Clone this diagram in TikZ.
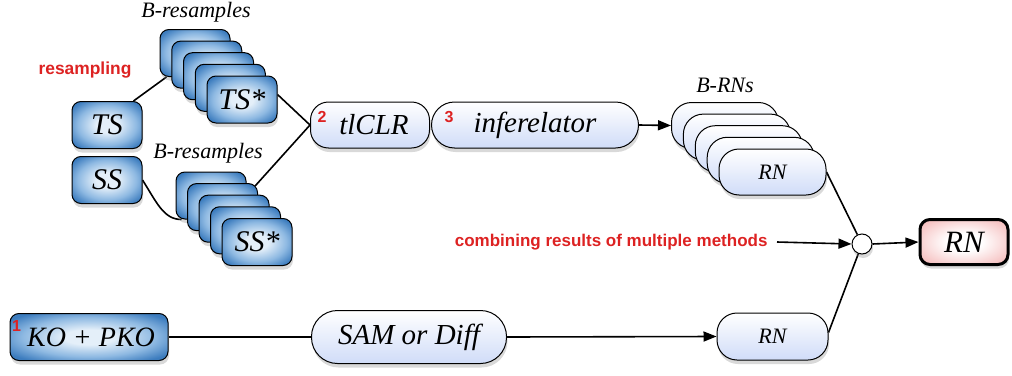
\documentclass[tikz,border=0pt]{standalone}
\usepackage{fontspec}
\setmainfont{Liberation Serif}
\setsansfont{Liberation Sans}
\usetikzlibrary{arrows.meta,shadows,calc}
\definecolor{bedge}{HTML}{3C7CBE}
\definecolor{bmid}{HTML}{8EB9E2}
\definecolor{bcenter}{HTML}{E4EFF9}
\definecolor{lblue}{HTML}{D0DCF8}
\definecolor{pinkedge}{HTML}{F5BFBF}
\definecolor{redlab}{HTML}{DD2222}
\pgfdeclareradialshading{blueshade}{\pgfpoint{0bp}{0bp}}{color(0bp)=(bcenter); color(8bp)=(bcenter); color(21bp)=(bmid); color(31bp)=(bedge); color(60bp)=(bedge)}
\pgfdeclareradialshading{pinkshade}{\pgfpoint{0bp}{0bp}}{color(0bp)=(white); color(10bp)=(white); color(31bp)=(pinkedge); color(60bp)=(pinkedge)}
\pgfdeclarelayer{bg}
\pgfsetlayers{bg,main}
\begin{document}
\begin{tikzpicture}[x=1pt,y=-1pt,
  shad/.style={drop shadow={shadow xshift=1pt,shadow yshift=-4pt,opacity=.3}},
  bluebox/.style={draw=black,line width=1pt,rounded corners=9pt,shading=blueshade,
    minimum width=70pt,minimum height=47pt,inner sep=0pt,shad,
    font=\fontsize{30}{30}\selectfont\itshape},
  lightbox/.style={draw=black,line width=1pt,top color=white,bottom color=lblue,
    minimum height=46pt,inner sep=0pt,shad,font=\fontsize{29}{29}\selectfont\itshape},
  rnbox/.style={lightbox,rounded corners=20pt,minimum width=107pt,
    font=\fontsize{22}{22}\selectfont\itshape},
  lab/.style={font=\fontsize{22}{22}\selectfont\itshape},
  redlabel/.style={text=redlab,font=\fontsize{17.4}{17.4}\selectfont\sffamily\bfseries},
  numlabel/.style={text=redlab,inner sep=0pt,font=\fontsize{16}{16}\selectfont\sffamily\bfseries},
  conn/.style={line width=1.6pt},
  arr/.style={conn,-{Triangle[length=13pt,width=10pt]}}]
\useasboundingbox (0,0) rectangle (1012,375);

% labels
\node[lab] (bl1) at (196,12) {B-resamples};
\node[lab] (bl2) at (208,153) {B-resamples};
\node[lab] (bl3) at (725,85) {B-RNs};
\node[redlabel] (rs) at (85,70) {resampling};

% left boxes
\node[bluebox] (TS) at (107,125) {TS};
\node[bluebox] (SS) at (107,180) {SS};

% TS stack
\foreach \i in {0,...,3}
  \node[bluebox] (ts\i) at ({195+11.75*\i},{53+11.6*\i}) {};
\node[bluebox] (ts4) at (242,99.5) {TS*};

% SS stack
\foreach \i in {0,...,3}
  \node[bluebox] (ss\i) at ({211+11.5*\i},{195.5+11.6*\i}) {};
\node[bluebox] (ss4) at (257,242) {SS*};

% methods
\node[lightbox,rounded corners=18pt,minimum width=119pt] (tl) at (370,125) {\hspace*{8pt}tlCLR};
\node[lightbox,rounded corners=23pt,minimum width=207pt] (inf) at (535,125) {inferelator};
\node[numlabel] (n2) at (322,116.5) {2};
\node[numlabel] (n3) at (449,117.5) {3};

% B-RNs stack
\foreach \i in {0,...,3}
  \node[rnbox] (brn\i) at ({725+11.9*\i},{125.5+11.6*\i}) {};
\node[rnbox] (brn4) at (772.5,172) {RN};

% junction and final
\node[circle,draw=black,line width=1pt,fill=white,minimum size=20pt,inner sep=0pt,shad] (c) at (862,244) {};
\node[draw=black,line width=3pt,rounded corners=10pt,shading=pinkshade,minimum width=88pt,
  minimum height=45pt,inner sep=0pt,shad,font=\fontsize{31}{31}\selectfont\itshape] (fin) at (964,242) {RN};
\node[redlabel,anchor=east,font=\fontsize{17}{17}\selectfont\sffamily\bfseries] (comb) at (771,242) {combining results of multiple methods};

% bottom row
\node[bluebox,minimum width=158pt,font=\fontsize{28}{28}\selectfont\itshape] (ko) at (89,337) {\hspace*{4pt}KO + PKO};
\node[numlabel] (n1) at (16.5,326) {1};
\node[lightbox,rounded corners=26pt,minimum width=195pt,minimum height=53pt] (sam) at (409,337) {SAM or Diff};
\node[rnbox,minimum width=111pt,minimum height=47pt] (rnb) at (772.5,336.5) {RN};

\begin{pgfonlayer}{bg}
\draw[conn] ([xshift=-9pt]TS.north east) -- ([xshift=7pt]ts0.south west);
\draw[conn] (SS.east) .. controls +(14,22) and +(-18,0) .. ([xshift=6pt]ss0.south west);
\draw[conn] ([yshift=5pt]ts4.east) -- (tl.west);
\draw[conn] ([xshift=-3pt,yshift=-3pt]ss1.north east) -- (tl.west);
\draw[arr] (inf.east) -- (brn0.west);
\draw[conn] (brn4.east) -- (c);
\draw[conn] ([yshift=4pt]rnb.east) -- (c);
\draw[arr] ([xshift=6pt]comb.east) -- (c.west);
\draw[arr] (c.east) -- (fin.west);
\draw[conn] (ko.east) -- (sam.west);
\draw[arr] (sam.east) -- (rnb.west);
\end{pgfonlayer}
\end{tikzpicture}
\end{document}
